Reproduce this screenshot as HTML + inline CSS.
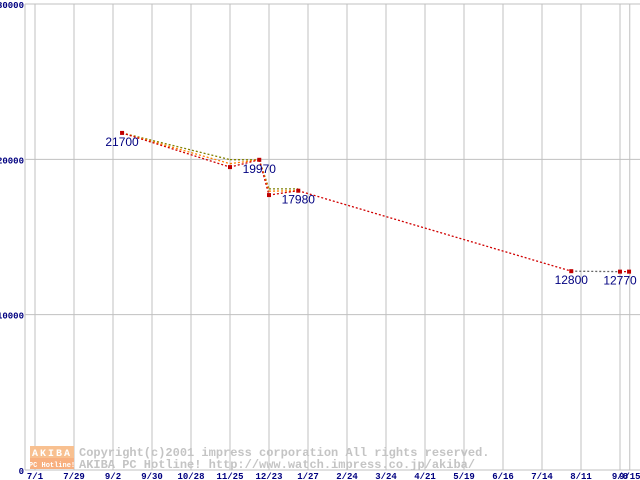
<!DOCTYPE html>
<html><head><meta charset="utf-8"><style>
html,body{margin:0;padding:0;background:#fff;}
svg{display:block;}
text{font-family:"Liberation Mono","DejaVu Sans Mono",monospace;}
</style></head><body>
<svg id="chart" width="640" height="480" xmlns="http://www.w3.org/2000/svg">
<g id="grid"></g>
<g id="wm">
 <rect x="30" y="446" width="44" height="12" fill="#f8c090"/>
 <rect x="30" y="458" width="44" height="11" fill="#f8b080"/>
 <text x="52" y="456" font-size="10" fill="#fff" text-anchor="middle" font-weight="bold" letter-spacing="2">AKIBA</text>
 <text x="52" y="467" font-size="7" fill="#fff" text-anchor="middle" font-weight="bold">PC Hotline!</text>
 <text x="79" y="456" font-size="12" fill="#c4c4c4" font-weight="bold">Copyright(c)2001 impress corporation All rights reserved.</text>
 <text x="79" y="468" font-size="12" fill="#c4c4c4" font-weight="bold">AKIBA PC Hotline!  http://www.watch.impress.co.jp/akiba/</text>
</g>
<g id="axes"></g>
<g id="series"></g>
</svg>
<script>
const xTickLabels=["7/1","7/29","9/2","9/30","10/28","11/25","12/23","1/27","2/24","3/24","4/21","5/19","6/16","7/14","8/11","9/8","9/15"];
const xTickDays=[0,28,56,84,112,140,168,196,224,252,280,308,336,364,392,420,427];
const yTicks=[0,10000,20000,30000];
const redDays=[62.5,140,161,168,189,385,420,426.5];
const redVals=[21700,19500,19970,17700,17980,12800,12770,12770];
const orangeDays=[62.5,140,161,168,189];
const orangeVals=[21700,19720,19970,17950,17980];
const oliveDays=[62.5,140,161,168,189];
const oliveVals=[21700,19980,19970,18100,18100];
const labelIdx=[0,2,4,5,6];

const NS="http://www.w3.org/2000/svg";
const X=d=>35+d*39/28;
const Y=v=>470-v*466/30000;
function mk(parent,tag,attrs){const e=document.createElementNS(NS,tag);for(const k in attrs)e.setAttribute(k,attrs[k]);document.getElementById(parent).appendChild(e);return e;}

yTicks.forEach(v=>{
 const l=mk('grid','line',{x1:25,x2:640,y1:Y(v),y2:Y(v),stroke:'#c0c0c0','stroke-width':1});
 
 
 const t=mk('axes','text',{x:24,y:Y(v)+4,'font-size':9,fill:'#000080','text-anchor':'end','font-weight':'bold'});
 t.textContent=v;
 
 
});
xTickDays.forEach((d,i)=>{
 const l=mk('grid','line',{x1:X(d),x2:X(d),y1:4,y2:470,stroke:'#c0c0c0','stroke-width':1});
 
 
 const t=mk('axes','text',{x:X(d),y:479,'font-size':9,fill:'#000080','text-anchor':'middle','font-weight':'bold'});
 t.textContent=xTickLabels[i];
 
 
});
const ax=mk('axes','line',{x1:25,x2:25,y1:4,y2:470,stroke:'#c0c0c0'});


const ax2=mk('axes','line',{x1:25,x2:640,y1:470,y2:470,stroke:'#c0c0c0'});



function line(days,vals,color,name){
 for(let i=0;i<days.length-1;i++){
  const c=(name==='red-series'&&i===5)?'#666':color;
  const l=mk('series','line',{x1:X(days[i]),y1:Y(vals[i]),x2:X(days[i+1]),y2:Y(vals[i+1]),stroke:c,'stroke-width':1.3,'stroke-dasharray':'2,2'});
  
  
 }
}
line(oliveDays,oliveVals,'#808000','olive-series');
line(orangeDays,orangeVals,'#ff8000','orange-series');
line(redDays,redVals,'#d00000','red-series');
redDays.forEach((d,i)=>{
 const r=mk('series','rect',{x:X(d)-2,y:Y(redVals[i])-2,width:4,height:4,fill:'#c00000'});
 
 
});
labelIdx.forEach(i=>{
 const t=mk('series','text',{x:X(redDays[i]),y:Y(redVals[i])+13,'font-size':12,fill:'#000080','text-anchor':'middle',style:'font-family:"Liberation Sans",sans-serif'});
 t.textContent=redVals[i];
 
 
});
</script>
</body></html>
